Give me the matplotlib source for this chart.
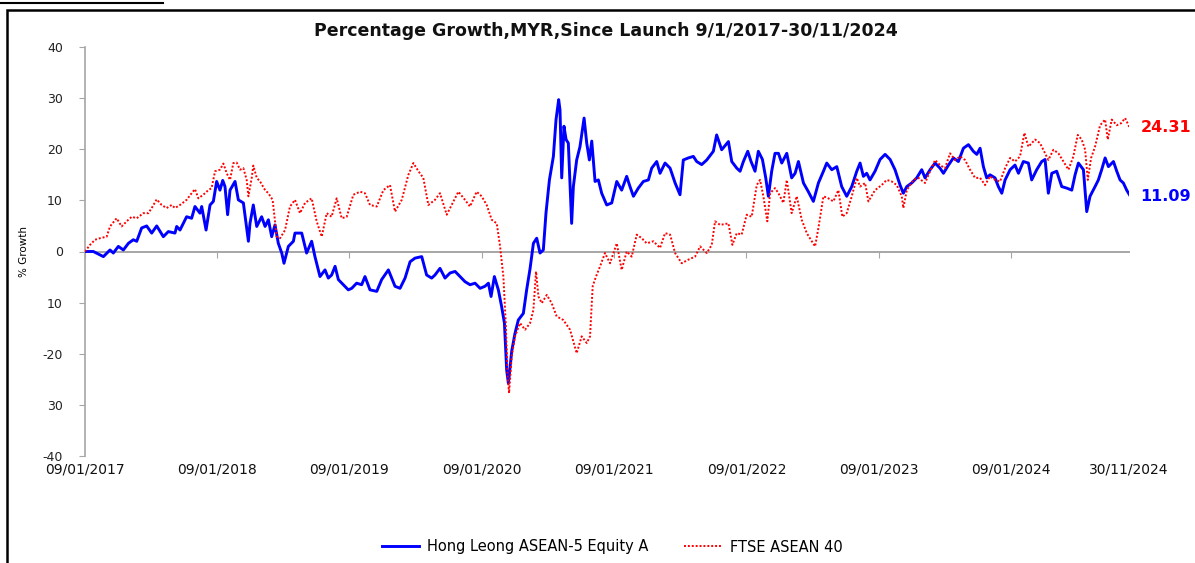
import numpy as np
import pandas as pd
import matplotlib
matplotlib.use("Agg")
import matplotlib.pyplot as plt
import matplotlib.dates as mdates
from matplotlib.lines import Line2D
from matplotlib.patches import Rectangle

# ---------------- data ----------------
launch_date = "2017-01-09"
end_date = "2024-11-30"

# Hong Leong ASEAN-5 Equity A: years since launch, % growth
hl_years = [0.000, 0.063, 0.139, 0.189, 0.214, 0.252, 0.290, 0.328, 0.365, 0.391, 0.428, 0.466, 0.504,
            0.542, 0.592, 0.630, 0.680, 0.693, 0.718, 0.768, 0.806, 0.831, 0.869, 0.882, 0.915, 0.945,
            0.970, 0.995, 1.020, 1.041, 1.058, 1.078, 1.096, 1.134, 1.159, 1.197, 1.214, 1.235, 1.247,
            1.272, 1.298, 1.335, 1.361, 1.386, 1.411, 1.436, 1.461, 1.487, 1.504, 1.537, 1.575, 1.587,
            1.638, 1.675, 1.713, 1.738, 1.776, 1.814, 1.839, 1.864, 1.890, 1.915, 1.953, 1.990, 2.016,
            2.053, 2.091, 2.116, 2.154, 2.205, 2.242, 2.293, 2.343, 2.381, 2.419, 2.457, 2.494, 2.545,
            2.582, 2.620, 2.645, 2.683, 2.721, 2.759, 2.797, 2.834, 2.872, 2.910, 2.948, 2.986, 3.023,
            3.049, 3.069, 3.094, 3.124, 3.149, 3.170, 3.187, 3.200, 3.225, 3.250, 3.275, 3.313, 3.338,
            3.364, 3.389, 3.414, 3.439, 3.464, 3.484, 3.510, 3.540, 3.560, 3.580, 3.590, 3.603, 3.620,
            3.636, 3.653, 3.678, 3.691, 3.716, 3.741, 3.772, 3.792, 3.812, 3.830, 3.855, 3.880, 3.905,
            3.943, 3.981, 4.019, 4.056, 4.094, 4.119, 4.145, 4.182, 4.220, 4.258, 4.283, 4.321, 4.346,
            4.384, 4.422, 4.460, 4.497, 4.522, 4.560, 4.598, 4.623, 4.661, 4.699, 4.749, 4.774, 4.812,
            4.863, 4.888, 4.926, 4.951, 4.976, 5.009, 5.034, 5.064, 5.089, 5.120, 5.145, 5.165, 5.190,
            5.215, 5.241, 5.266, 5.304, 5.341, 5.367, 5.392, 5.430, 5.467, 5.505, 5.543, 5.581, 5.606,
            5.644, 5.682, 5.719, 5.757, 5.795, 5.833, 5.858, 5.883, 5.908, 5.933, 5.971, 6.009, 6.047,
            6.085, 6.122, 6.160, 6.185, 6.211, 6.248, 6.286, 6.324, 6.349, 6.387, 6.425, 6.462, 6.488,
            6.526, 6.563, 6.601, 6.639, 6.677, 6.714, 6.740, 6.765, 6.790, 6.815, 6.840, 6.878, 6.903,
            6.929, 6.954, 6.992, 7.029, 7.055, 7.092, 7.130, 7.155, 7.193, 7.231, 7.256, 7.281, 7.307,
            7.344, 7.382, 7.420, 7.458, 7.483, 7.508, 7.546, 7.571, 7.596, 7.634, 7.659, 7.684, 7.710,
            7.735, 7.773, 7.798, 7.823, 7.848, 7.873, 7.894]
hl_values = [0.0, 0.0, -1.0, 0.3, -0.3, 1.0, 0.3, 1.6, 2.3, 2.0, 4.6, 5.0, 3.6,
             5.0, 2.9, 3.9, 3.6, 4.9, 4.2, 6.8, 6.5, 8.8, 7.5, 8.8, 4.2, 9.1,
             9.8, 13.7, 12.0, 13.9, 12.7, 7.2, 12.0, 13.7, 10.1, 9.5, 6.2, 2.0, 5.5,
             9.1, 4.9, 6.8, 4.9, 6.2, 2.9, 5.2, 1.6, -0.3, -2.3, 1.0, 2.0, 3.6,
             3.6, -0.3, 2.0, -1.0, -4.9, -3.6, -5.2, -4.6, -2.9, -5.5, -6.5, -7.5, -7.2,
             -6.2, -6.5, -4.9, -7.5, -7.8, -5.5, -3.6, -6.8, -7.2, -5.2, -2.0, -1.3, -1.0,
             -4.6, -5.2, -4.6, -3.3, -5.2, -4.2, -3.9, -4.9, -5.9, -6.5, -6.2, -7.2, -6.8,
             -6.2, -8.8, -4.9, -7.5, -10.8, -14.0, -23.2, -25.8, -19.5, -16.0, -13.4, -12.1, -7.5,
             -3.3, 1.6, 2.6, -0.3, 0.3, 7.5, 14.0, 18.6, 25.8, 29.7, 27.7, 14.4, 24.5,
             21.9, 21.2, 5.5, 12.7, 17.9, 20.5, 26.1, 21.2, 17.9, 21.6, 13.7, 14.0, 11.4,
             9.1, 9.5, 13.7, 12.0, 14.7, 12.7, 10.8, 12.4, 13.7, 14.0, 16.3, 17.6, 15.3,
             17.3, 16.3, 13.4, 11.1, 17.9, 18.3, 18.6, 17.6, 17.0, 17.9, 19.6, 22.8, 19.9,
             21.5, 17.6, 16.3, 15.7, 17.6, 19.6, 17.6, 15.7, 19.6, 18.0, 14.4, 10.8, 15.7,
             19.2, 19.2, 17.3, 19.2, 14.4, 15.3, 17.6, 13.4, 11.7, 9.8, 13.4, 15.7, 17.3,
             16.0, 16.6, 12.7, 10.8, 12.7, 15.7, 17.3, 14.7, 15.3, 14.0, 15.7, 18.0, 19.0,
             18.0, 16.0, 13.0, 11.4, 12.7, 13.4, 14.4, 16.0, 14.4, 16.0, 17.3, 16.3, 15.3,
             16.9, 18.3, 17.6, 20.2, 20.9, 19.6, 19.0, 20.2, 16.6, 14.4, 15.0, 14.4, 12.7,
             11.4, 14.0, 16.0, 16.9, 15.3, 17.6, 17.3, 14.0, 16.0, 17.6, 18.0, 11.4, 15.3,
             15.7, 12.7, 12.4, 12.0, 15.0, 17.3, 16.0, 7.8, 10.8, 12.7, 14.0, 16.0, 18.3,
             16.6, 17.6, 15.7, 14.0, 13.4, 12.0, 11.09]

# FTSE ASEAN 40: years since launch, % growth
ftse_years = [0.000, 0.038, 0.076, 0.113, 0.164, 0.189, 0.239, 0.277, 0.315, 0.353, 0.391, 0.441, 0.479,
              0.504, 0.542, 0.579, 0.617, 0.655, 0.680, 0.718, 0.768, 0.806, 0.831, 0.857, 0.894, 0.932,
              0.957, 0.983, 1.020, 1.046, 1.071, 1.096, 1.121, 1.146, 1.172, 1.197, 1.222, 1.235, 1.260,
              1.272, 1.298, 1.323, 1.361, 1.386, 1.418, 1.449, 1.474, 1.512, 1.549, 1.587, 1.625, 1.663,
              1.713, 1.751, 1.789, 1.827, 1.864, 1.902, 1.940, 1.978, 2.028, 2.079, 2.116, 2.154, 2.205,
              2.255, 2.305, 2.343, 2.394, 2.444, 2.482, 2.520, 2.557, 2.595, 2.645, 2.683, 2.734, 2.771,
              2.822, 2.872, 2.910, 2.960, 2.998, 3.036, 3.074, 3.112, 3.137, 3.162, 3.180, 3.195, 3.205,
              3.225, 3.250, 3.288, 3.326, 3.364, 3.389, 3.409, 3.427, 3.452, 3.490, 3.527, 3.565, 3.615,
              3.666, 3.716, 3.754, 3.792, 3.817, 3.837, 3.862, 3.893, 3.930, 3.968, 4.019, 4.056, 4.094,
              4.132, 4.170, 4.208, 4.245, 4.296, 4.346, 4.384, 4.422, 4.460, 4.510, 4.560, 4.611, 4.649,
              4.699, 4.737, 4.762, 4.800, 4.863, 4.893, 4.926, 4.963, 5.001, 5.039, 5.077, 5.102, 5.127,
              5.157, 5.178, 5.215, 5.241, 5.278, 5.304, 5.341, 5.379, 5.417, 5.455, 5.493, 5.518, 5.543,
              5.581, 5.618, 5.656, 5.694, 5.724, 5.757, 5.795, 5.833, 5.858, 5.896, 5.921, 5.971, 6.022,
              6.059, 6.097, 6.135, 6.173, 6.185, 6.211, 6.261, 6.299, 6.349, 6.387, 6.425, 6.462, 6.500,
              6.538, 6.576, 6.614, 6.651, 6.689, 6.727, 6.765, 6.803, 6.840, 6.878, 6.916, 6.954, 6.992,
              7.029, 7.067, 7.100, 7.130, 7.155, 7.181, 7.218, 7.256, 7.281, 7.319, 7.357, 7.395, 7.433,
              7.470, 7.503, 7.533, 7.559, 7.579, 7.604, 7.634, 7.672, 7.710, 7.730, 7.760, 7.798, 7.831,
              7.861, 7.894]
ftse_values = [0.0, 1.3, 2.3, 2.6, 2.9, 4.9, 6.5, 4.9, 5.9, 6.8, 6.5, 7.5, 7.5,
               8.5, 10.2, 9.1, 8.5, 9.1, 8.5, 9.1, 10.1, 11.4, 12.2, 10.4, 11.1, 12.0,
               12.4, 15.7, 16.0, 17.2, 15.3, 14.0, 17.3, 17.4, 16.0, 16.3, 14.0, 10.8, 14.4,
               16.8, 14.4, 13.7, 12.0, 11.4, 10.1, 2.9, 2.6, 4.2, 8.8, 10.1, 7.5, 9.5,
               10.4, 5.9, 2.9, 7.5, 6.8, 10.4, 6.5, 6.8, 11.1, 11.7, 11.4, 9.1, 8.8,
               12.0, 13.0, 7.8, 10.1, 15.0, 17.3, 15.7, 14.4, 9.1, 10.1, 11.4, 7.2, 9.1,
               11.7, 10.1, 8.8, 11.7, 10.8, 9.1, 6.2, 5.5, 1.0, -4.9, -14.0, -24.5, -27.7,
               -20.5, -16.6, -14.0, -15.3, -14.0, -11.4, -3.9, -8.8, -10.1, -8.5, -10.1, -12.7, -13.4,
               -15.3, -19.9, -16.6, -17.9, -16.6, -6.8, -4.9, -2.9, -0.3, -2.3, 1.6, -3.6, 0.0,
               -1.0, 3.3, 2.6, 1.6, 2.0, 0.7, 3.6, 3.3, -0.3, -2.3, -1.6, -1.0, 1.0,
               -0.3, 1.3, 5.9, 5.2, 5.5, 1.3, 3.6, 3.3, 7.2, 6.8, 13.0, 14.0, 10.8,
               5.9, 11.4, 12.4, 11.4, 9.5, 14.0, 7.5, 10.8, 6.2, 3.6, 2.0, 1.0, 4.6,
               10.8, 10.4, 9.8, 12.0, 6.8, 7.5, 10.8, 14.4, 12.7, 13.4, 9.8, 12.0, 13.0,
               14.0, 13.7, 13.0, 10.8, 8.5, 12.0, 14.0, 14.4, 13.4, 15.7, 17.9, 16.9, 16.3,
               19.2, 17.9, 18.6, 17.9, 16.0, 14.4, 14.4, 13.0, 14.7, 14.0, 13.7, 16.3, 18.3,
               17.6, 18.6, 23.2, 20.5, 21.2, 21.9, 21.2, 19.2, 17.9, 19.9, 19.2, 17.6, 16.0,
               18.6, 22.8, 21.9, 19.9, 14.0, 18.3, 20.5, 24.7, 25.8, 21.9, 25.8, 24.7, 25.1,
               26.1, 24.31]

series_names = ["Hong Leong ASEAN-5 Equity A", "FTSE ASEAN 40"]
series_colors = ["#0000FF", "#FF0000"]
end_labels = ["11.09", "24.31"]
x_tick_labels = ["09/01/2017", "09/01/2018", "09/01/2019", "09/01/2020", "09/01/2021",
                 "09/01/2022", "09/01/2023", "09/01/2024", "30/11/2024"]
x_tick_dates = ["2017-01-09", "2018-01-09", "2019-01-09", "2020-01-09", "2021-01-09",
                "2022-01-09", "2023-01-09", "2024-01-09", "2024-11-30"]
y_ticks = [-40, -30, -20, -10, 0, 10, 20, 30, 40]
y_tick_labels = ["-40", "30", "-20", "10", "0", "10", "20", "30", "40"]
title = "Percentage Growth,MYR,Since Launch 9/1/2017-30/11/2024"

# ---------------- helpers ----------------
launch = pd.Timestamp(launch_date)


def to_num(years):
    d = launch + pd.to_timedelta(np.asarray(years) * 365.25, unit="D")
    return mdates.date2num(d.to_pydatetime())


W, H = 1195, 563
fig = plt.figure(figsize=(W / 100, H / 100), dpi=100)
fig.patch.set_facecolor("white")

ax = fig.add_axes([85 / W, 1 - 456 / H, 1044 / W, 409 / H])
ax.set_facecolor("white")

hl_x = to_num(hl_years)
ft_x = to_num(ftse_years)

ax.plot(hl_x, hl_values, color=series_colors[0], lw=2.1, solid_joinstyle="round", zorder=3)
ax.plot(ft_x, ftse_values, color=series_colors[1], lw=1.4, linestyle=(0, (1, 1)), zorder=4)

xmin = mdates.date2num(pd.Timestamp(launch_date).to_pydatetime())
xmax = mdates.date2num(pd.Timestamp(end_date).to_pydatetime())
ax.set_xlim(xmin, xmax)
ax.set_ylim(-40, 40)

grey = "#a6a6a6"
for s in ["top", "right"]:
    ax.spines[s].set_visible(False)
ax.spines["left"].set_color(grey)
ax.spines["left"].set_linewidth(1.2)
ax.spines["bottom"].set_position(("data", 0))
ax.spines["bottom"].set_color(grey)
ax.spines["bottom"].set_linewidth(1.4)

tick_nums = [mdates.date2num(pd.Timestamp(d).to_pydatetime()) for d in x_tick_dates]
ax.set_xticks(tick_nums[:-1])
ax.tick_params(axis="x", direction="out", length=4, color=grey, labelbottom=False)

ax.set_yticks(y_ticks)
ax.set_yticklabels(y_tick_labels)
ax.tick_params(axis="y", direction="out", length=4, color=grey, pad=12,
               labelsize=9, labelcolor="#222222")

sec = ax.secondary_xaxis(0.0)
sec.set_xticks(tick_nums)
sec.set_xticklabels(x_tick_labels)
sec.tick_params(length=0, pad=5, labelsize=10, labelcolor="#111111")
sec.spines["bottom"].set_visible(False)

ax.set_ylabel("% Growth", fontsize=7.5, labelpad=10)

fig.text(606 / W, 1 - 31 / H, title, ha="center", va="center",
         fontsize=12.5, fontweight="bold", color="#111111")

# end labels
ax.annotate(end_labels[1], xy=(ft_x[-1], ftse_values[-1]), xytext=(8, 0),
            textcoords="offset points", va="center", ha="left", fontsize=11.5,
            fontweight="bold", color=series_colors[1], annotation_clip=False)
ax.annotate(end_labels[0], xy=(hl_x[-1], hl_values[-1]), xytext=(8, -1),
            textcoords="offset points", va="center", ha="left", fontsize=11.5,
            fontweight="bold", color=series_colors[0], annotation_clip=False)

# legend
handles = [Line2D([], [], color=series_colors[0], lw=2.1),
           Line2D([], [], color=series_colors[1], lw=1.4, linestyle=(0, (1, 1)))]
fig.legend(handles, series_names, loc="center", bbox_to_anchor=(612 / W, 1 - 547 / H),
           ncol=2, frameon=False, fontsize=10.5, handlelength=2.6, handletextpad=0.55,
           columnspacing=2.4)

# outer frame
fig.add_artist(Rectangle((7 / W, -0.05), 1.2, 1 - 10 / H + 0.05, transform=fig.transFigure,
                         fill=False, edgecolor="black", lw=1.8, clip_on=False))
fig.add_artist(Line2D([0, 163 / W], [1 - 3 / H, 1 - 3 / H], transform=fig.transFigure,
                      color="black", lw=1.5))

fig.savefig("out.png", dpi=100)
